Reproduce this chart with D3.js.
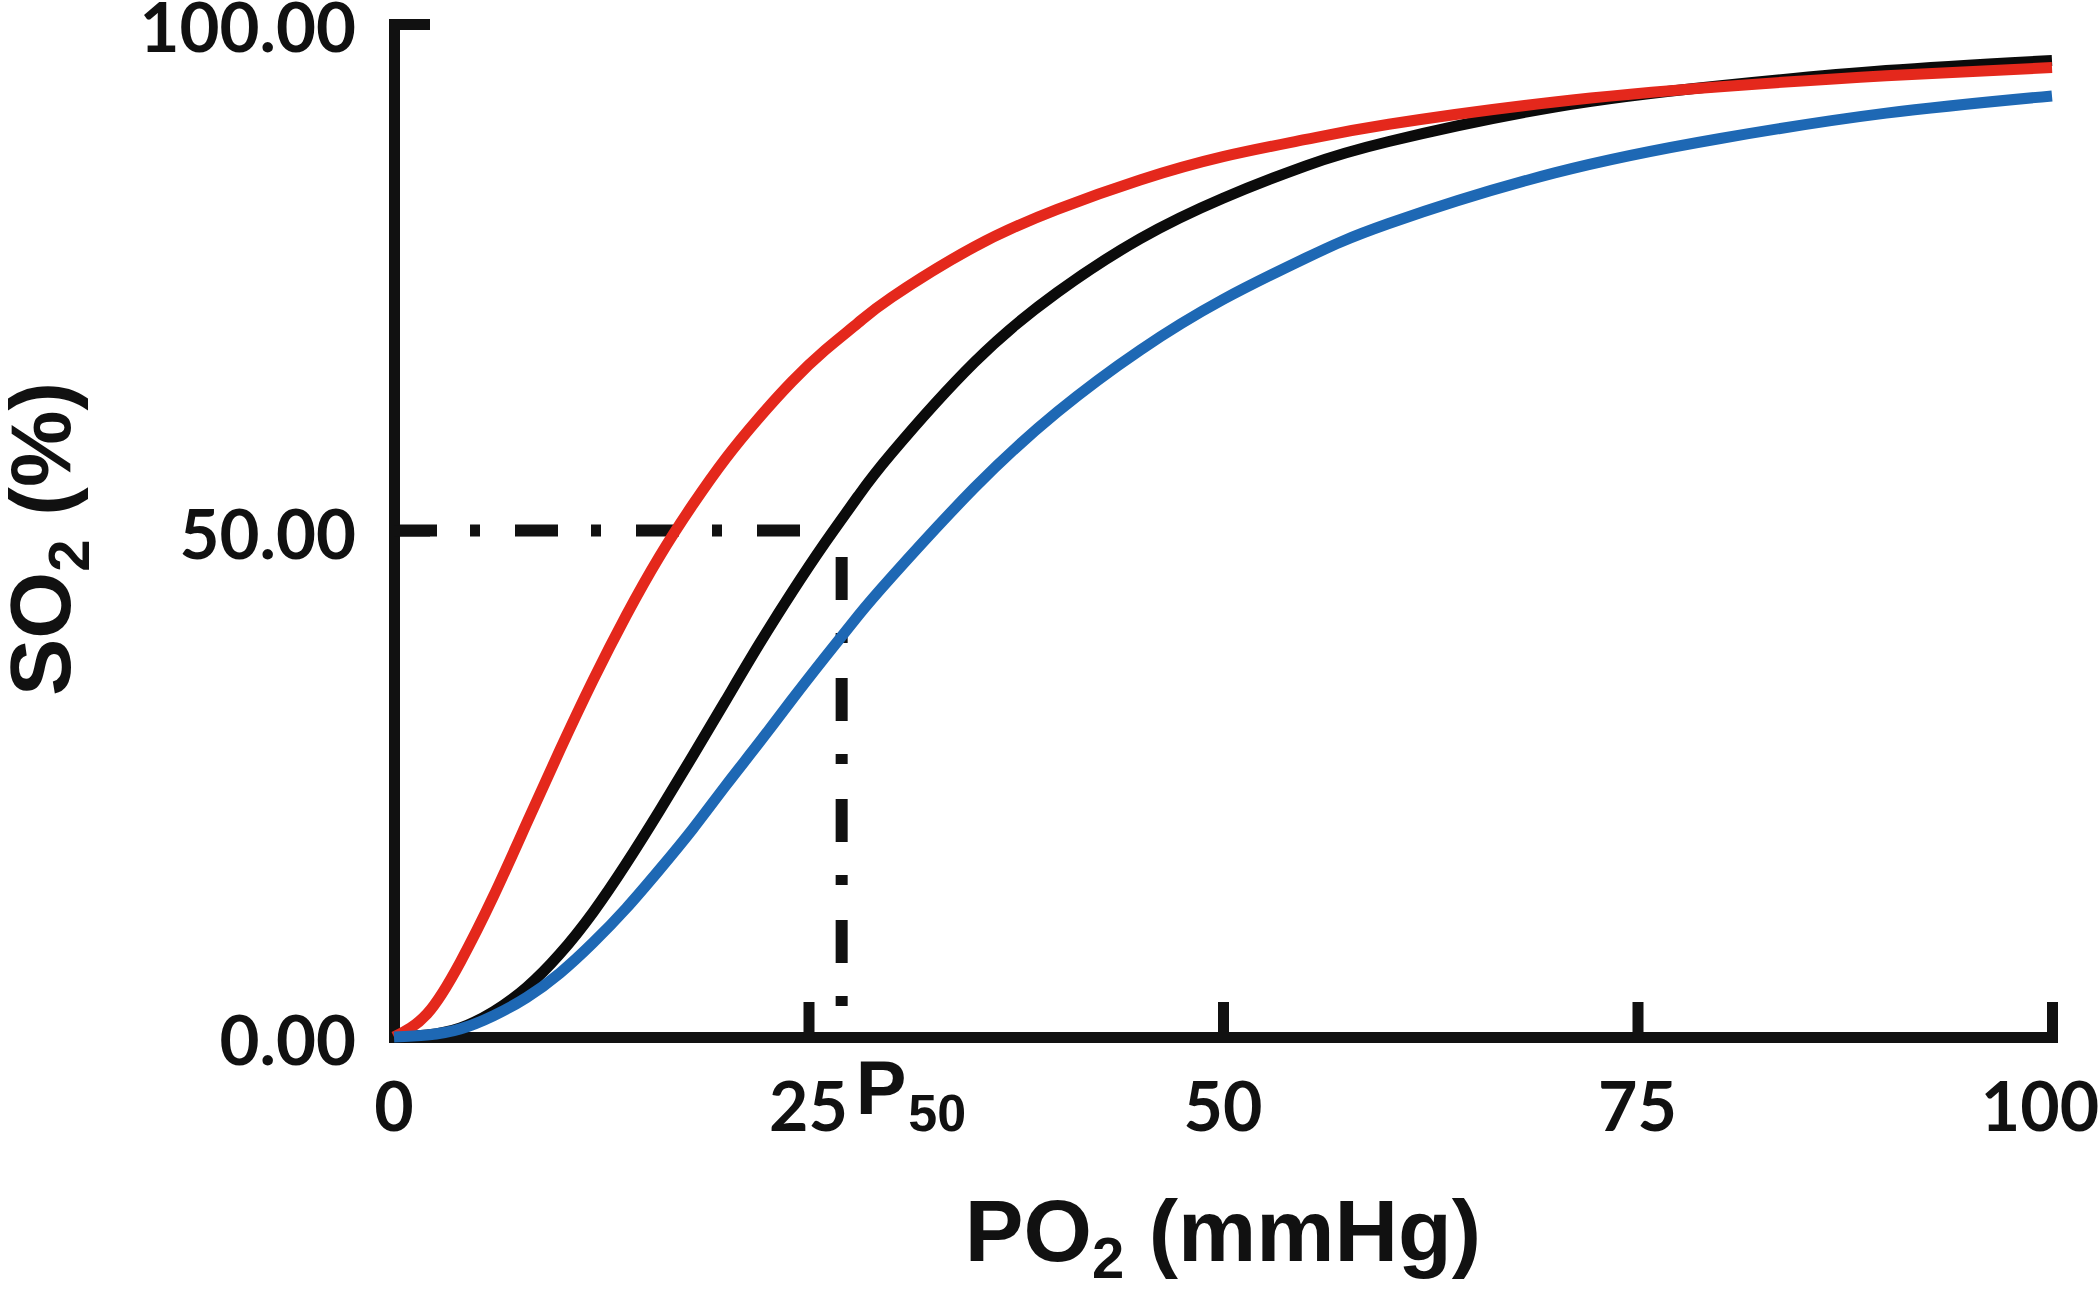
<!DOCTYPE html>
<html>
<head>
<meta charset="utf-8">
<script src="https://cdn.jsdelivr.net/npm/d3@7"></script>
<style>
  html, body { margin: 0; padding: 0; background: #ffffff; }
  svg { display: block; }
</style>
</head>
<body>
<svg id="chart" width="2100" height="1289"></svg>
<script>
// ---------------- data ----------------
const po2 = [0, 2, 4, 6, 8, 10, 12, 14, 16, 18, 20, 22, 24, 26, 28, 30, 35, 40, 45, 50, 55, 60, 70, 80, 90, 100];
const so2Normal = [0, 0.2, 0.9, 2.5, 4.9, 8.2, 12.3, 17.1, 22.3, 27.7, 33.2, 38.7, 43.9, 48.8, 53.4, 57.6, 66.6, 73.5, 78.8, 82.8, 86.0, 88.4, 91.8, 93.9, 95.4, 96.4];
const so2LeftShift = [0, 2.3, 7.4, 13.9, 21.1, 28.3, 35.2, 41.6, 47.4, 52.5, 57.1, 61.1, 64.7, 67.8, 70.5, 73.0, 78.0, 81.7, 84.6, 86.9, 88.6, 90.1, 92.3, 93.8, 94.9, 95.7];
const so2RightShift = [0, 0.2, 0.8, 2.1, 3.9, 6.3, 9.3, 12.7, 16.5, 20.5, 24.8, 29.0, 33.3, 37.5, 41.6, 45.4, 54.2, 61.7, 67.8, 72.8, 76.9, 80.3, 85.3, 88.7, 91.2, 92.9];
const seriesNames = ["normal", "left", "right"];
const seriesColors = ["#0b0b0b", "#e4281c", "#1e68b4"];

const xTickValues = [0, 25, 50, 75, 100];
const xTickLabels = ["0", "25", "50", "75", "100"];
const yTickValues = [0, 50, 100];
const yTickLabels = ["0.00", "50.00", "100.00"];

const p50Value = 27;      // mmHg
const halfSat = 50;       // %
const xTitle = ["PO", "2", " (mmHg)"];
const yTitle = ["SO", "2", " (%)"];
const p50Label = ["P", "50"];

// ---------------- layout ----------------
const plot = { left: 394, right: 2052, top: 24, bottom: 1037 };
const svg = d3.select("#chart");

const x = d3.scaleLinear().domain([0, 100]).range([plot.left, plot.right]);
const y = d3.scaleLinear().domain([0, 100]).range([plot.bottom, plot.top]);

const AXIS_W = 11;
const tickFont = "Lato, 'Open Sans', 'DejaVu Sans', sans-serif";
const titleFont = "'Liberation Sans', Arial, sans-serif";

// ---------------- reference dash-dot lines ----------------
const refG = svg.append("g");
refG.append("line")
  .attr("x1", x(0)).attr("x2", x(p50Value))
  .attr("y1", y(halfSat)).attr("y2", y(halfSat))
  .attr("stroke", "#111").attr("stroke-width", 12)
  .attr("stroke-dasharray", "43,33,10,35,43,33,10,35,43,33,10,35,43,300");
refG.append("line")
  .attr("x1", x(p50Value)).attr("x2", x(p50Value))
  .attr("y1", y(halfSat)).attr("y2", y(0))
  .attr("stroke", "#111").attr("stroke-width", 12)
  .attr("stroke-dasharray", "43,33,10,35")
  .attr("stroke-dashoffset", 94.5);

// ---------------- axes ----------------
const yAxis = d3.axisLeft(y).tickValues(yTickValues).tickSizeInner(-36).tickSizeOuter(0).tickFormat("");
const xAxis = d3.axisBottom(x).tickValues(xTickValues).tickSizeInner(-35).tickSizeOuter(0).tickFormat("");

const gy = svg.append("g").attr("transform", `translate(${plot.left},0)`).call(yAxis);
const gx = svg.append("g").attr("transform", `translate(0,${plot.bottom})`).call(xAxis);
[gy, gx].forEach(g => {
  g.select(".domain").attr("stroke", "#111").attr("stroke-width", AXIS_W).attr("stroke-linecap", "square");
  g.selectAll(".tick line").attr("stroke", "#111").attr("stroke-width", AXIS_W);
});

// tick labels
svg.append("g").selectAll("text")
  .data(yTickValues)
  .join("text")
  .attr("x", plot.left - 38)
  .attr("y", d => y(d) + 28)
  .attr("text-anchor", "end")
  .attr("font-family", tickFont)
  .attr("font-weight", 700)
  .attr("font-size", 69)
  .attr("fill", "#111")
  .text((d, i) => yTickLabels[i]);

svg.append("g").selectAll("text")
  .data(xTickValues)
  .join("text")
  .attr("x", d => x(d))
  .attr("dx", (d, i) => i === xTickValues.length - 1 ? -12 : 0)
  .attr("y", plot.bottom + 94)
  .attr("text-anchor", "middle")
  .attr("font-family", tickFont)
  .attr("font-weight", 700)
  .attr("font-size", 68)
  .attr("fill", "#111")
  .text((d, i) => xTickLabels[i]);

// ---------------- curves ----------------
const line = d3.line()
  .x(d => x(d[0]))
  .y(d => y(d[1]))
  .curve(d3.curveNatural);

const seriesData = [so2Normal, so2LeftShift, so2RightShift];
svg.append("g").selectAll("path")
  .data(seriesData.map((vals, i) => ({ name: seriesNames[i], color: seriesColors[i], pts: po2.map((p, j) => [p, vals[j]]) })))
  .join("path")
  .attr("d", d => line(d.pts))
  .attr("fill", "none")
  .attr("stroke", d => d.color)
  .attr("stroke-width", 11)
  .attr("stroke-linecap", "butt")
  .attr("stroke-linejoin", "round");

// ---------------- P50 label ----------------
const p50Text = svg.append("text")
  .attr("x", x(p50Value) + 14)
  .attr("y", plot.bottom + 77)
  .attr("font-family", "'Liberation Sans Narrow', 'Liberation Sans', Arial, sans-serif")
  .attr("font-weight", 700)
  .attr("fill", "#111");
p50Text.append("tspan").attr("font-size", 76).text(p50Label[0]);
p50Text.append("tspan").attr("font-size", 52).attr("dy", 17).attr("dx", 2).text(p50Label[1]);

// ---------------- axis titles ----------------
const xt = svg.append("text")
  .attr("x", (plot.left + plot.right) / 2)
  .attr("y", 1261)
  .attr("text-anchor", "middle")
  .attr("font-family", titleFont)
  .attr("font-weight", 700)
  .attr("font-size", 88)
  .attr("fill", "#111");
xt.append("tspan").text(xTitle[0]);
xt.append("tspan").attr("font-size", 58).attr("dy", 17).text(xTitle[1]);
xt.append("tspan").attr("dy", -17).text(xTitle[2]);

const yt = svg.append("text")
  .attr("transform", `translate(70,539) rotate(-90)`)
  .attr("text-anchor", "middle")
  .attr("font-family", titleFont)
  .attr("font-weight", 700)
  .attr("font-size", 86)
  .attr("fill", "#111");
yt.append("tspan").text(yTitle[0]);
yt.append("tspan").attr("font-size", 58).attr("dy", 19).text(yTitle[1]);
yt.append("tspan").attr("dy", -19).text(yTitle[2]);
</script>
</body>
</html>
